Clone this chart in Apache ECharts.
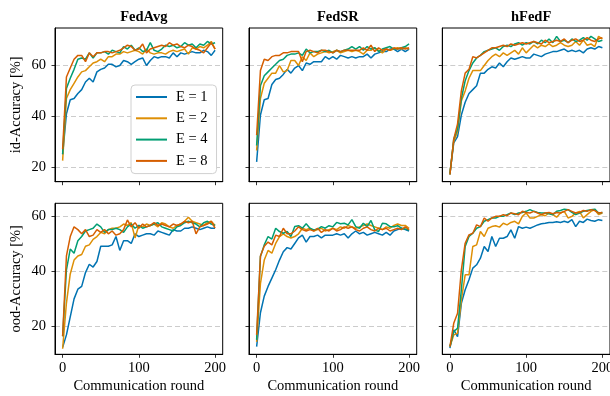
<!DOCTYPE html>
<html>
<head>
<meta charset="utf-8">
<script src="https://cdn.jsdelivr.net/npm/echarts@6/dist/echarts.min.js"></script>
<style>
  html, body { margin: 0; padding: 0; background: #fff; }
  #main { width: 610px; height: 396px; }
</style>
</head>
<body>
<div id="main"></div>
<script>
// rounds 0..200, every 5
const rounds = [0,5,10,15,20,25,30,35,40,45,50,55,60,65,70,75,80,85,90,95,100,105,110,115,120,125,130,135,140,145,150,155,160,165,170,175,180,185,190,195,200];
const methods = ["FedAvg", "FedSR", "hFedF"];
const seriesNames = ["E = 1", "E = 2", "E = 4", "E = 8"];
const xTicks = [0, 100, 200];
const yTicks = [20, 40, 60];

// id-Accuracy
const fedavgId1 = [25,41,46.5,47,49,50.5,53.5,55,53.5,57.5,58.5,59,60.5,60.5,59.5,60,62,61.5,60.5,61.5,62.5,63,60,62,63.5,63,63.5,63.5,63,65,63.5,65,64.5,65,65.5,65,65,66,65.5,64,66];
const fedavgId2 = [22.5,47,50.5,53,55.5,57.5,58,59.5,61,61.5,62.5,61.5,63.5,63.5,64.5,64.5,65.5,65,65.5,66,65.5,64.5,66.5,65,64.5,65,65,64.5,65.5,66,65.5,66,66.5,64.5,67,66.5,67.5,67,68,69.5,66.5];
const fedavgId4 = [25,51,55,58.5,62.5,63,62.5,65,63,65,65,65.5,64.5,66,65.5,65,67.5,66.5,68,66,67,65.5,66,69,66,65.5,66.5,68,67.5,68,67,67.5,69,68,68.5,67,68.5,68,69.5,68.5,69];
const fedavgId8 = [27,55.5,59,62.5,64,64,61.5,65,63.5,65,65,65.5,65.5,65,65.5,66,67,68,67.5,66,66.5,68.5,65,66.5,67,67.5,68,67.5,69,68,68.5,67.5,67,68,67.5,66.5,66,65,67,69,66.5];

const fedsrId1 = [22,40.5,46.5,47,52.5,54.5,55,56.5,58.5,57,59,60,58,61,60.5,61.5,61.5,61.5,63.5,62.5,63.5,62.5,64,63.5,63,63.5,63,63.5,63.5,64.5,63,64.5,65,65.5,65.5,66.5,66.5,65.5,66.5,65.5,66.5];
const fedsrId2 = [26.5,47,53,55,57,57,60,57.5,58,62,62,60,63.5,62,65,63.5,64.5,65,65.5,65,65.5,66,65,65.5,66,65.5,66,65.5,64.5,66,66,67,66,65,66.5,66,66.5,67,66.5,67,66.5];
const fedsrId4 = [28.5,52,56,57.5,59,60.5,62,62.5,64,64.5,64.5,65,64,66.5,65,65.5,65.5,66,65.5,66,65,66,65.5,66,66.5,67.5,66.5,67.5,66,67.5,66.5,67,65.5,66.5,67,67.5,66.5,66.5,67,67.5,68.5];
const fedsrId8 = [32.5,58,62.5,62,63.5,64,64,65,65,65.5,65.5,65.5,61.5,65.5,66,65.5,65,66,66,65.5,65,66,65.5,66,66,66,66,66,67,66,68,65.5,67,66,66.5,66,67,66.5,67,66.5,67];

const hfedfId1 = [17.5,29.5,32,40.5,45.5,49,50.5,52,57,57,58.5,59.5,59,61,59.5,61.5,63,62.5,63,63.5,63,63,64.5,64,63.5,64.5,65,65.5,65.5,66,66.5,65.5,66,65.5,66,65,66.5,67,66.5,67.5,67];
const hfedfId2 = [17.5,30,34,46,50,55,58,58,58,60,62,63.5,64.5,63.5,65,64,65,66,64.5,67,65,66.5,68,67,68,67.5,68.5,67.5,68,69,68,67.5,68,69.5,68,70,68,68.5,67.5,71.5,70.5];
const hfedfId4 = [17,31,35,47,54,58,61,63,64,65.5,66,66.5,67,66,67.5,68,67.5,68.5,69,68,69,68.5,69.5,68.5,70,69,70.5,69,71.5,69.5,70,69,70.5,69.5,70,71,70,71.5,70.5,69.5,70];
const hfedfId8 = [17,31,37,50,57,58.5,63.5,63,64,65,66,67,67,67.5,68,67.5,68.5,68,68.5,69,68.5,69,69.5,69,68.5,70,69,69.5,70,69.5,70.5,69,70,70.5,69.5,70,71,70,69.5,70.5,71];

// ood-Accuracy
const fedavgOod1 = [12.5,17,23.5,30,33.5,34.5,39.5,42.5,41.5,43.5,49,49,49,49.5,52.5,47.5,51,51,50,53.5,52.5,53,53.5,53.5,53,54.5,54,53.5,53,55,54.5,54.5,55.5,55.5,56,55.5,55,55.5,56,55.5,55.5];
const fedavgOod2 = [12,28.5,39,44,45.5,46,49,49.5,51.5,52.5,54,53.5,55,55.5,55.5,56,57,56.5,57.5,52,56.5,56,57,56.5,57,56,57.5,57,56,55.5,56.5,57,58,59.5,58,57.5,57,56.5,57.5,58,56.5];
const fedavgOod4 = [16.5,40.5,48,46.5,51,52.5,54.5,55,55.5,57,56,54,55,55,55.5,55,54,56,57,55.5,56.5,55.5,56,56.5,57,57.5,56,55.5,55,54.5,56,56.5,57.5,58,57.5,57,56,57.5,58,57,56.5];
const fedavgOod8 = [16.5,45.5,52.5,56,55,53.5,55,52.5,53,55,54,55,53.5,54.5,53,53.5,55,58.5,56,57.5,55.5,57,56,56.5,57.5,56.5,57,56.5,56,57,56.5,57,58,57.5,58,53.5,56,56.5,57,58,55.5];

const fedsrOod1 = [12.8,25,31,34.5,37.5,40.5,44,47,48.5,48,50,52,53,50.5,52.5,52.5,53,52,53,53,53,53.5,53,53.5,52,53.5,54.5,53.5,54,53,53.5,54,53.5,53,54,53,54.5,55,55.5,55,54.5];
const fedsrOod2 = [14.5,35.5,44,47.5,46.5,50,52.5,53.5,52.5,52,52.5,53.5,55.5,55,55.5,54.5,55,55.5,54.5,55,55.5,55,56,55.5,56.5,56,55.5,56,56.5,57,56.5,56,55.5,55,56,55.5,56.5,57,56.5,56.5,55.5];
const fedsrOod4 = [15.2,45.3,49.5,52.5,51.6,55.5,54.3,53.7,54.3,52.5,56.1,56.4,55.5,57.1,55.5,54.9,55.2,56.1,55.5,56.4,56,57.6,57.1,57.3,56.7,58.6,56.1,55.5,57.3,56.1,58.3,54.9,54.3,57.3,57.1,56.1,56,56.4,55.5,55.2,54.9];
const fedsrOod8 = [17,45.5,49,50.5,49.5,53,52.5,55.5,53.5,53.5,54.5,56,55,54.5,55,54.5,55.5,54,55,54.5,55.5,54.5,55,56,55.5,56,55,54.5,55.5,56,55,54.5,55.5,55,55.5,54.5,55,55.5,55,56,55];

const hfedfOod1 = [12.2,18.8,16.4,28.4,33.3,36.9,41.1,42.3,44.7,48.9,47.1,52.5,48.9,51.9,51.9,52.5,54.9,51.9,56.1,55.5,55.9,55.5,56.1,56.7,57.1,57.3,57.6,57.6,57.8,57.6,58,57.6,58.6,56.1,58,57.6,58.8,58.3,58,58.6,58.3];
const hfedfOod2 = [12.8,17,17.6,29.6,38.7,38.7,48.9,49.5,54.3,52.5,55.5,56.1,56.4,55.9,57.3,56.7,57.6,58,57.1,59.8,61,59.2,59.2,59.8,60.4,60,61,60.4,59.5,61,61.6,59.2,59.8,61,61.6,59.2,60.4,61.6,62.2,60.4,61];
const hfedfOod4 = [12.8,18.2,19.4,33.3,48.9,52.5,53.7,55.5,56.1,58,58.6,59.2,59.2,59.8,59.8,60.4,61,60.4,61,61.2,61.6,62.2,61.6,61.2,61,61,60.7,60.4,61.6,61.9,62.4,62.2,61.2,60.4,61,61.6,61.9,62.2,62.4,61,61.2];
const hfedfOod8 = [12.8,21.2,24.8,40.5,50.1,53.1,53.7,56.7,56.1,59.2,58,59.2,59.8,59.8,60.4,60,61,60.7,60.4,61.6,61.2,61,61.6,61,60.4,61,61.2,60.7,61.2,61,61.6,62.2,61.6,61,61.2,61.9,61.6,62.2,61.9,61,61.2];

const panels = [
  [fedavgId1, fedavgId2, fedavgId4, fedavgId8],
  [fedsrId1, fedsrId2, fedsrId4, fedsrId8],
  [hfedfId1, hfedfId2, hfedfId4, hfedfId8],
  [fedavgOod1, fedavgOod2, fedavgOod4, fedavgOod8],
  [fedsrOod1, fedsrOod2, fedsrOod4, fedsrOod8],
  [hfedfOod1, hfedfOod2, hfedfOod4, hfedfOod8]
];

const colors = ["#0173B2", "#DE8F05", "#029E73", "#D55E00"];
const font = "Liberation Serif";
const fs = 14.5;

const colLeft = [55, 249, 442.3];
const panelW = 167.7;
const rowTop = [28, 203.3];
const rowH = [153.7, 151];
const yRange = [[14.2, 74.8], [10, 64.5]];
const yNames = ["id-Accuracy [%]", "ood-Accuracy [%]"];

const grids = [], xAxes = [], yAxes = [], series = [];
for (let i = 0; i < 6; i++) {
  const row = Math.floor(i / 3), col = i % 3;
  grids.push({
    left: colLeft[col], top: rowTop[row], width: panelW, height: rowH[row],
    show: true, borderColor: "#000", borderWidth: 1, backgroundColor: "transparent",
    containLabel: false, outerBoundsMode: "none"
  });
  xAxes.push({
    type: "value", gridIndex: i, min: -10, max: 210,
    axisLine: { show: true, onZero: false, lineStyle: { color: "#000", width: 1 } },
    axisTick: { show: true, length: 3.5, customValues: xTicks, lineStyle: { color: "#000", width: 0.8 } },
    axisLabel: { show: row === 1, customValues: xTicks, color: "#000", fontSize: fs, fontFamily: font, margin: 6 },
    splitLine: { show: false },
    name: row === 1 ? "Communication round" : "",
    nameLocation: "middle", nameGap: 24,
    nameTextStyle: { color: "#000", fontSize: fs, fontFamily: font }
  });
  yAxes.push({
    type: "value", gridIndex: i, min: yRange[row][0], max: yRange[row][1],
    axisLine: { show: true, onZero: false, lineStyle: { color: "#000", width: 1 } },
    axisTick: { show: true, length: 3.5, customValues: yTicks, lineStyle: { color: "#000", width: 0.8 } },
    axisLabel: { show: col === 0, customValues: yTicks, color: "#000", fontSize: fs, fontFamily: font, margin: 9 },
    splitLine: { show: true, lineStyle: { color: "#cccccc", width: 1, type: [5, 3] } },
    name: col === 0 ? yNames[row] : "",
    nameLocation: "middle", nameGap: 31,
    nameTextStyle: { color: "#000", fontSize: fs, fontFamily: font }
  });
  panels[i].forEach((vals, k) => {
    series.push({
      name: seriesNames[k], type: "line", xAxisIndex: i, yAxisIndex: i,
      data: rounds.map((r, j) => [r, vals[j]]),
      symbol: "none", color: colors[k],
      lineStyle: { width: 1.5, color: colors[k] },
      animation: false
    });
  });
}

const option = {
  backgroundColor: "#fff",
  animation: false,
  title: methods.map((m, c) => ({
    text: m, left: colLeft[c] + panelW / 2, top: 5, textAlign: "center",
    textStyle: { color: "#000", fontSize: fs, fontWeight: "bold", fontFamily: font }
  })),
  legend: {
    data: seriesNames, orient: "vertical", left: 131, top: 85,
    backgroundColor: "#fff", borderColor: "#d0d0d0", borderWidth: 1, borderRadius: 4,
    padding: [4, 9, 4.7, 5], icon: "rect", itemWidth: 31, itemHeight: 2, itemGap: 5.3,
    textStyle: { color: "#000", fontSize: fs, fontFamily: font, lineHeight: 16, padding: [0, 0, 0, 4] },
    z: 10
  },
  grid: grids, xAxis: xAxes, yAxis: yAxes, series: series
};

const myChart = echarts.init(document.getElementById("main"), null, { renderer: "canvas" });
myChart.setOption(option);
</script>
</body>
</html>
